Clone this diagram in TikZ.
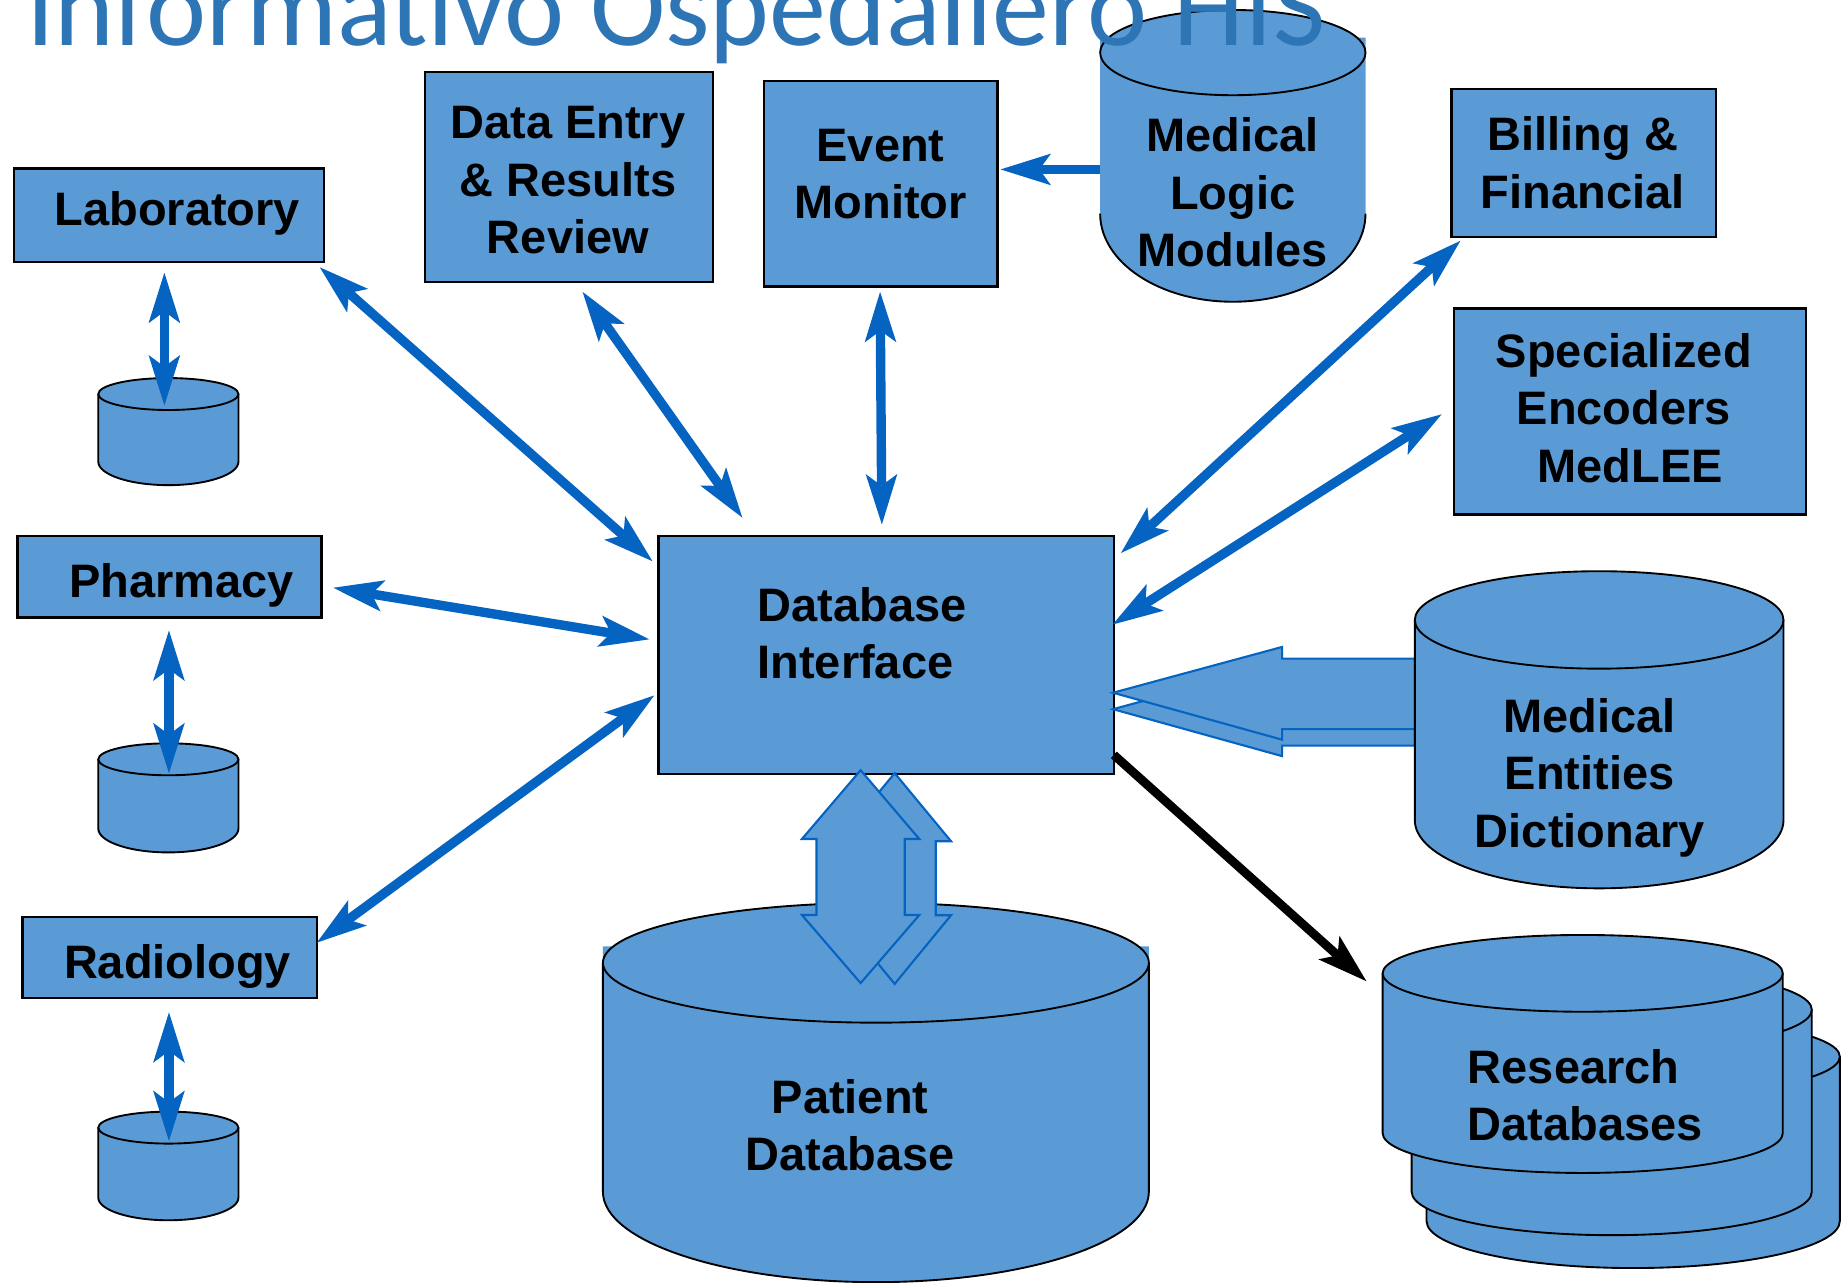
\documentclass[tikz,border=0pt]{standalone}
\usepackage{fontspec}
\setmainfont{Liberation Sans}
\newfontfamily\titlefont{Carlito}
\usetikzlibrary{arrows.meta}
\definecolor{boxfill}{RGB}{91,155,213}
\definecolor{arrblue}{RGB}{5,99,193}
\definecolor{titleblue}{RGB}{46,117,182}
% cylinder: #1 cx, #2 y of top centre, #3 rx, #4 ry top, #5 y side end, #6 ry bottom, #7 y body top, #8 y where side stroke starts
\newcommand\drawcyl[8]{%
  \fill[boxfill] ({#1-#3},#7) -- ({#1-#3},#5) .. controls ({#1-#3},{#5+0.5523*#6}) and ({#1-0.5523*#3},{#5+#6}) .. ({#1},{#5+#6}) .. controls ({#1+0.5523*#3},{#5+#6}) and ({#1+#3},{#5+0.5523*#6}) .. ({#1+#3},#5) -- ({#1+#3},#7) -- cycle;
  \draw[cylline] ({#1-#3},#8) -- ({#1-#3},#5) .. controls ({#1-#3},{#5+0.5523*#6}) and ({#1-0.5523*#3},{#5+#6}) .. ({#1},{#5+#6}) .. controls ({#1+0.5523*#3},{#5+#6}) and ({#1+#3},{#5+0.5523*#6}) .. ({#1+#3},#5) -- ({#1+#3},#8);
  \draw[cylline, fill=boxfill] (#1,#2) ellipse [x radius=#3pt, y radius=#4pt];
}
\begin{document}
\begin{tikzpicture}[x=1pt, y=-1pt,
  box/.style={draw=black, line width=2.2pt, fill=boxfill, inner sep=0pt, anchor=north west},
  cylline/.style={draw=black, line width=1.6pt},
  lbl/.style={font=\fontsize{40}{49}\selectfont\bfseries, inner sep=0pt, anchor=base, text=black},
  tipb/.tip={Stealth[length=43pt, width=27pt, inset=10pt, line width=0pt]},
  link/.style={draw=arrblue, line width=8pt, tipb-tipb},
  onelink/.style={draw=arrblue, line width=8pt, -tipb},
  blacklink/.style={draw=black, line width=7.5pt, -tipb},
  blockarrow/.style={draw=arrblue, line width=1.8pt, fill=boxfill, line join=miter}
]
\useasboundingbox (0,0) rectangle (1568,1092.7);

% ---------- small local databases ----------
\drawcyl{143.4}{335.6}{59.7}{13.6}{393.2}{20}{335.6}{335.6}
\drawcyl{143.4}{646.7}{59.7}{13.6}{705.7}{20.3}{646.7}{646.7}
\drawcyl{143.4}{960.4}{59.7}{13.6}{1020}{19.3}{960.4}{960.4}
\coordinate (labdb) at (143.4,335.6);
\coordinate (phadb) at (143.4,646.7);
\coordinate (raddb) at (143.4,960.4);

% ---------- boxes ----------
\node[box, minimum width=264pt, minimum height=79.5pt] (lab) at (11,142.5) {};
\node[box, minimum width=245.4pt, minimum height=179.1pt] (dataentry) at (360.8,60.1) {};
\node[box, minimum width=198.9pt, minimum height=174.9pt] (event) at (649.7,67.8) {};
\node[box, minimum width=225.1pt, minimum height=126.2pt] (billing) at (1235.3,74.7) {};
\node[box, minimum width=299.7pt, minimum height=175.9pt] (encoders) at (1237.3,261.4) {};
\node[box, minimum width=388pt, minimum height=202.6pt] (dbi) at (559.7,455.4) {};
\node[box, minimum width=258.9pt, minimum height=69.6pt] (pharmacy) at (14,455.4) {};
\node[box, minimum width=250.9pt, minimum height=69.2pt] (radiology) at (18,779.8) {};

% ---------- Medical Logic Modules ----------
\drawcyl{1050}{44.8}{113}{36.3}{182}{75}{32}{182}
\coordinate (mlm) at (1050,140);

% ---------- block arrow: Medical Entities Dictionary -> Database Interface ----------
\draw[blockarrow] (948,604) -- (1092,565) -- (1092,575) -- (1205,575) -- (1205,635) -- (1092,635) -- (1092,644) -- cycle;
\draw[blockarrow] (948,590) -- (1092,551) -- (1092,561) -- (1205,561) -- (1205,621) -- (1092,621) -- (1092,630) -- cycle;

% ---------- Medical Entities Dictionary ----------
\drawcyl{1362}{528}{157}{41.5}{698.6}{58}{528}{528}
\coordinate (med) at (1362,640);

% ---------- Patient Database ----------
\drawcyl{746}{820}{232.5}{51}{1015}{77}{806}{820}
\coordinate (patient) at (746,960);

% ---------- Research Databases (stack) ----------
\drawcyl{1391}{900}{176}{34}{1040}{40}{900}{900}
\drawcyl{1372.7}{860}{170.4}{35}{1015}{37}{860}{860}
\drawcyl{1348}{829}{170.4}{32.7}{965}{34}{829}{829}
\coordinate (research) at (1348,900);

% ---------- block arrows: Database Interface <-> Patient Database ----------
\draw[blockarrow] (762,658.5) -- (810,716.5) -- (797,716.5) -- (797,779.5) -- (810,779.5) -- (762,838) -- (714,779.5) -- (727,779.5) -- (727,716.5) -- (714,716.5) -- cycle;
\draw[blockarrow] (733,656) -- (783,714.6) -- (770.6,714.6) -- (770.6,779.3) -- (783,779.3) -- (733,837.3) -- (683,779.3) -- (695.4,779.3) -- (695.4,714.6) -- (683,714.6) -- cycle;

% ---------- connector end points ----------
\coordinate (labA) at (272.4,227.7);   \coordinate (labB) at (555.7,478);
\coordinate (deA) at (496.2,248.6);    \coordinate (deB) at (632.2,440.8);
\coordinate (emA) at (749.6,248.6);    \coordinate (emB) at (751.1,446.7);
\coordinate (biA) at (1243.8,205.1);   \coordinate (biB) at (954.7,471);
\coordinate (enA) at (1227.8,352.9);   \coordinate (enB) at (947.7,531.9);
\coordinate (phA) at (283.9,500.6);    \coordinate (phB) at (553,544.5);
\coordinate (raA) at (269.9,802.8);    \coordinate (raB) at (557.2,592.3);
\coordinate (lvA) at (140,232.3);      \coordinate (lvB) at (140,345.3);
\coordinate (pvA) at (143.9,537);      \coordinate (pvB) at (143.9,658.6);
\coordinate (rvA) at (143.9,862.2);    \coordinate (rvB) at (143.9,971.8);
\coordinate (mlA) at (937,144.3);      \coordinate (mlB) at (852.2,144.3);
\coordinate (rsA) at (948.6,642.9);    \coordinate (rsB) at (1163.8,835.7);

% ---------- connectors ----------
\draw[link] (labA) -- (labB);
\draw[link] (deA) -- (deB);
\draw[link] (emA) -- (emB);
\draw[link] (biA) -- (biB);
\draw[link] (enA) -- (enB);
\draw[link] (phA) -- (phB);
\draw[link] (raA) -- (raB);
\draw[link] (lvA) -- (lvB);
\draw[link] (pvA) -- (pvB);
\draw[link] (rvA) -- (rvB);
\draw[onelink] (mlA) -- (mlB);
\draw[blacklink] (rsA) -- (rsB);

% ---------- labels ----------
\node[lbl] (tlab) at (151,192.2) {Laboratory};
\node[lbl] (tde) at (483.7,118.2) {\begin{tabular}[t]{@{}c@{}}Data Entry\\\& Results\\Review\end{tabular}};
\node[lbl] (tem) at (750,137.5) {\begin{tabular}[t]{@{}c@{}}Event\\Monitor\end{tabular}};
\node[lbl] (tmlm) at (1050,129.3) {\begin{tabular}[t]{@{}c@{}}Medical\\Logic\\Modules\end{tabular}};
\node[lbl] (tbill) at (1348,128.6) {\begin{tabular}[t]{@{}c@{}}Billing \&\\Financial\end{tabular}};
\node[lbl] (tenc) at (1383,312.9) {\begin{tabular}[t]{@{}c@{}}Specialized\\Encoders\\\hspace*{11pt}MedLEE\end{tabular}};
\node[lbl, anchor=base west] (tdbi) at (645,529.3) {\begin{tabular}[t]{@{}l@{}}Database\\Interface\end{tabular}};
\node[lbl] (tpha) at (154.5,509.3) {Pharmacy};
\node[lbl] (trad) at (151.2,833.3) {Radiology};
\node[lbl] (tmed) at (1354,623.7) {\begin{tabular}[t]{@{}c@{}}Medical\\Entities\\Dictionary\end{tabular}};
\node[lbl] (tpat) at (724,948.3) {\begin{tabular}[t]{@{}c@{}}Patient\\Database\end{tabular}};
\node[lbl, anchor=base west] (tres) at (1250,922.7) {\begin{tabular}[t]{@{}l@{}}Research\\Databases\end{tabular}};

% ---------- title (cut off at the top edge, as in the reference) ----------
\node[anchor=base west, inner sep=0pt, text=titleblue, font=\titlefont\fontsize{97}{97}\selectfont] (title) at (22,39) {Informativo Ospedaliero HIS};
\end{tikzpicture}
\end{document}
